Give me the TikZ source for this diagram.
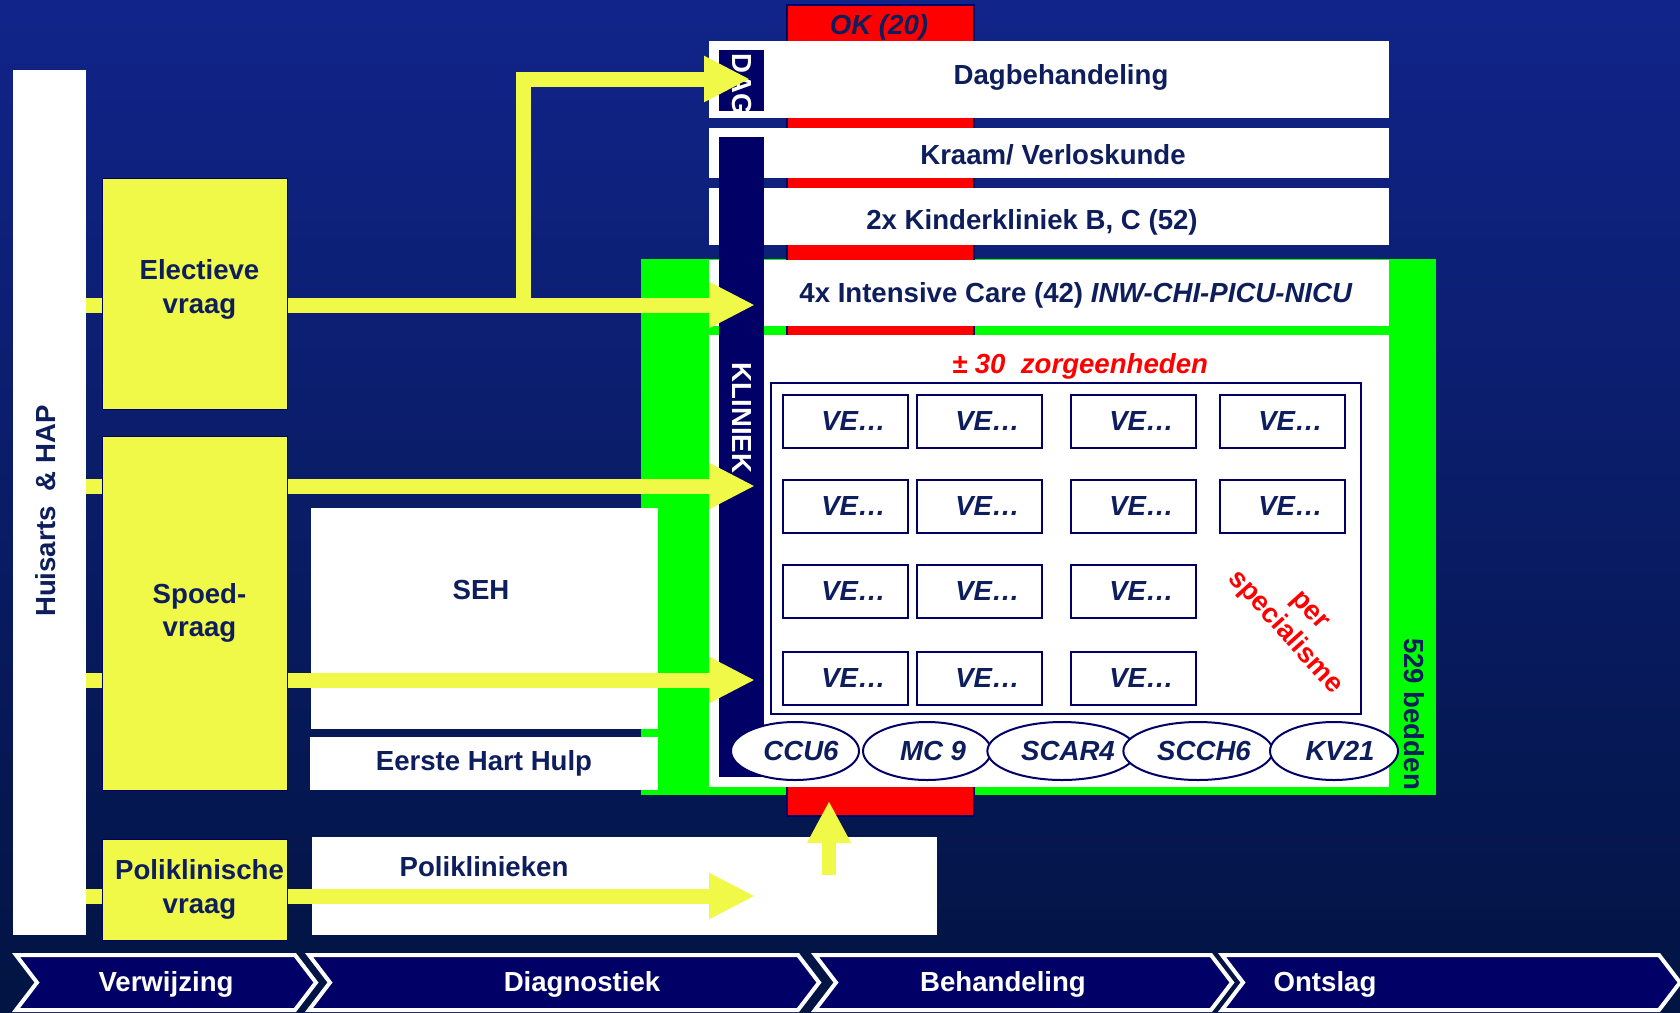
\documentclass[tikz,border=0pt]{standalone}
\usepackage{fontspec}
\setmainfont{Liberation Sans}
\usepackage{xcolor,tikz}
\usetikzlibrary{arrows.meta,positioning,calc,shapes.geometric}

\definecolor{bgtop}{RGB}{17,36,138}
\definecolor{bgbot}{RGB}{2,20,66}
\definecolor{geel}{RGB}{240,248,72}
\definecolor{groen}{RGB}{0,255,0}
\definecolor{rood}{RGB}{255,0,0}
\definecolor{inkt}{RGB}{14,30,92}
\definecolor{balk}{RGB}{0,0,102}

\begin{document}
\begin{tikzpicture}[x=0.5pt,y=-0.5pt,text=inkt,
 font=\fontsize{13.8pt}{16.6pt}\selectfont\bfseries,
 vak/.style={fill=white,inner sep=0pt},
 geelvak/.style={fill=geel,draw=balk,line width=0.5pt,inner sep=0pt,minimum width=92.5pt},
 ve/.style={draw=balk,line width=1pt,fill=white,inner sep=0pt,minimum width=62.5pt,minimum height=26.5pt,
  font=\fontsize{13.8pt}{16.6pt}\selectfont\bfseries\itshape},
 afd/.style={ellipse,draw=balk,line width=1pt,fill=white,inner sep=0pt,minimum width=64pt,minimum height=29pt,
  font=\fontsize{13.8pt}{16.6pt}\selectfont\bfseries\itshape},
 stroom/.style={draw=geel,line width=7.5pt,-{Triangle[length=23pt,width=21.5pt]}},
 stomp/.style={draw=geel,line width=7.5pt},
 fase/.style={fill=balk,draw=white,line width=2pt,line join=miter}]
\useasboundingbox (0,0) rectangle (1680,1012);
\shade[top color=bgtop,bottom color=bgbot] (0,0) rectangle (1680,1012);

% kliniek: groen, OK-kolom, witte rijen
\fill[groen] (641,259) rectangle (1436,795);
\filldraw[fill=rood,draw=balk,line width=1pt] (787,5) rectangle (974,816);
\fill[white] (709,41) rectangle (1389,118);
\fill[white] (709,128) rectangle (1389,178);
\fill[white] (709,188) rectangle (1389,245);
\fill[white] (709,260) rectangle (1389,326);
\fill[white] (709,335) rectangle (1389,787);
\node[font=\fontsize{13.8pt}{16.6pt}\selectfont\bfseries\itshape] (ok) at (879,27) {OK (20)};
\node (dagTxt) at (1061,77) {Dagbehandeling};
\node (kraam) at (1053,155) {Kraam/ Verloskunde};
\node (kinder) at (1032,222) {2x Kinderkliniek B, C (52)};
\node (ic) at (1076,295) {4x Intensive Care (42) \textit{INW-CHI-PICU-NICU}};
\node[rotate=-90] (bedden) at (1414,714) {529 bedden};

% DAG en KLINIEK balken
\fill[balk] (719,137) rectangle (764,777);
\node[rotate=-90,text=white] (kliniek) at (741.5,418) {KLINIEK};
\begin{scope}
 \clip (719,50) rectangle (764,111);
 \fill[balk] (719,50) rectangle (764,111);
 \node[rotate=-90,text=white,anchor=west,inner sep=0pt] (dag) at (741.5,53) {DAG};
\end{scope}

% zorgeenheden
\draw[balk,line width=1pt,fill=white] (771,383) rectangle (1361,714);
\node[text=rood,font=\fontsize{13.8pt}{16.6pt}\selectfont\bfseries\itshape] (zorg) at (1080,366) {± 30\ \ zorgeenheden};
\foreach \r/\yy in {1/421,2/506}
 \foreach \c/\xx in {1/845.5,2/979.5,3/1133.5,4/1282.5}
  \node[ve] (ve-\r-\c) at (\xx,\yy) {\hspace*{8pt}VE…};
\foreach \r/\yy in {3/591,4/678}
 \foreach \c/\xx in {1/845.5,2/979.5,3/1133.5}
  \node[ve] (ve-\r-\c) at (\xx,\yy) {\hspace*{8pt}VE…};
\node[text=rood,rotate=-48,align=center] (spec) at (1296,623) {per\\specialisme};
\foreach \xx/\naam [count=\i] in {795/CCU6,927/MC 9,1062/SCAR4,1198/SCCH6,1334/KV21}
 \node[afd] (afd\i) at (\xx,751) {\hspace*{6pt}\naam};

% verwijzing en diagnostiek
\node[fill=white,inner sep=0pt,minimum width=36.5pt,minimum height=432.5pt] (huis) at (49.5,502.5) {};
\node[rotate=90] (huisTxt) at (46,511) {Huisarts\ \ \& HAP};
\node[geelvak,minimum height=115.5pt,label={[align=center,xshift=2.5pt,yshift=2pt]center:Electieve\\vraag}] (elect) at (194.5,293.5) {};
\node[geelvak,minimum height=177pt,label={[align=center,xshift=2.5pt]center:Spoed-\\vraag}] (spoed) at (194.5,613) {};
\node[geelvak,minimum height=50.5pt,label={[align=center,xshift=2.5pt]center:Poliklinische\\vraag}] (polivraag) at (194.5,889.5) {};
\node[vak,minimum width=173.5pt,minimum height=110.5pt] (seh) at (484.5,618.5) {};
\node (sehTxt) at (481,590) {SEH};
\node[vak,minimum width=174pt,minimum height=26.5pt] (ehh) at (484,763.5) {Eerste Hart Hulp};
\node[vak,minimum width=312.5pt,minimum height=49pt] (poli) at (624.5,886) {};
\node (poliTxt) at (484,867) {Poliklinieken};

% stromen
\coordinate (inDag) at (750,79);
\coordinate (inIC) at (755,305);
\coordinate (tak) at (523,305);
\coordinate (inSpoedA) at (755,486);
\coordinate (inSpoedB) at (755,680);
\coordinate (inPoli) at (755,896);
\coordinate (uitPoli) at (829,875);
\coordinate (inOK) at (829,801);
\draw[stomp] (huis.east|-inIC) -- (elect.west|-inIC);
\draw[stomp] (huis.east|-inSpoedA) -- (spoed.west|-inSpoedA);
\draw[stomp] (huis.east|-inSpoedB) -- (spoed.west|-inSpoedB);
\draw[stomp] (huis.east|-inPoli) -- (polivraag.west|-inPoli);
\draw[stroom] (tak) |- (inDag);
\draw[stroom] (elect.east|-inIC) -- (inIC);
\draw[stroom] (spoed.east|-inSpoedA) -- (inSpoedA);
\draw[stroom] (spoed.east|-inSpoedB) -- (inSpoedB);
\draw[stroom] (polivraag.east|-inPoli) -- (inPoli);
\draw[stroom,line width=7pt,-{Triangle[length=21pt,width=20.5pt]}] (uitPoli) -- (inOK);

% fasen
\foreach \a/\b/\naam/\lx [count=\i] in {16/295/Verwijzing/166,309/798/Diagnostiek/582,815/1211/Behandeling/1003,1222/1659/Ontslag/1325}{
 \draw[fase] (\a,955) -- (\b,955) -- (\b+21,982.5) -- (\b,1010) -- (\a,1010) -- (\a+21,982.5) -- cycle;
 \node[text=white] (fase\i) at (\lx,984) {\naam};
}
\end{tikzpicture}
\end{document}
